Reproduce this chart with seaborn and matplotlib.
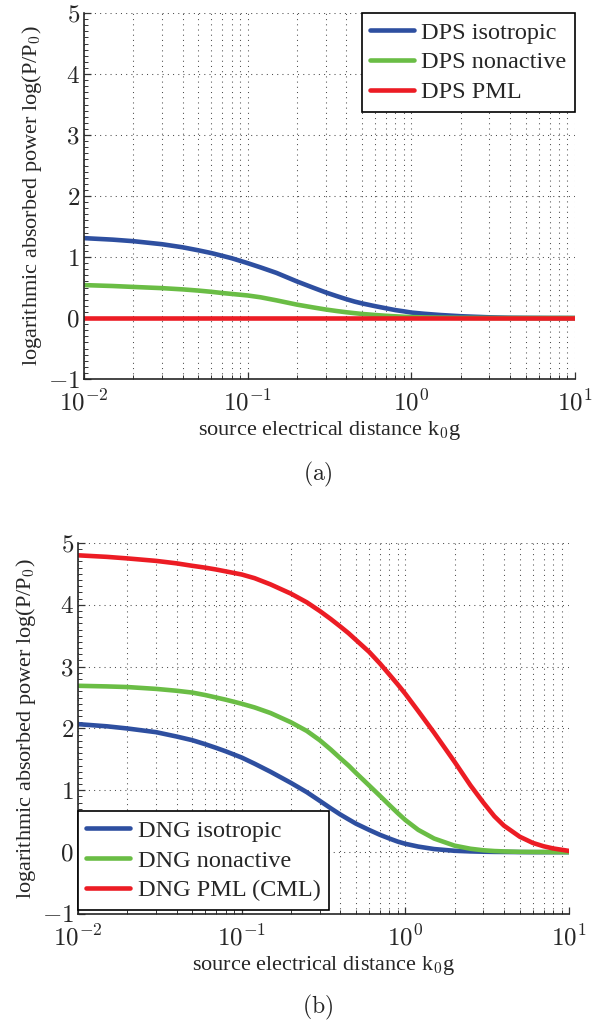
import numpy as np
import pandas as pd
import seaborn as sns
import matplotlib.pyplot as plt
from matplotlib.ticker import LogLocator, NullFormatter, MultipleLocator

sns.set_style("ticks")
plt.rcParams["font.family"] = ["Liberation Serif", "DejaVu Serif"]
plt.rcParams["mathtext.fontset"] = "cm"

# source electrical distance k0*g
kg = [0.01, 0.015, 0.02, 0.03, 0.04, 0.05, 0.06, 0.07, 0.08, 0.1, 0.12, 0.15,
      0.2, 0.25, 0.3, 0.35, 0.4, 0.45, 0.5, 0.6, 0.7, 0.8, 0.9, 1.0,
      1.2, 1.5, 2, 2.5, 3, 3.5, 4, 5, 6, 7, 8, 10]

# (a) DPS
dps_iso = [1.31, 1.285, 1.26, 1.21, 1.16, 1.11, 1.065, 1.02, 0.98, 0.90, 0.83, 0.74,
           0.60, 0.50, 0.42, 0.36, 0.31, 0.27, 0.24, 0.195, 0.16, 0.13, 0.11, 0.09,
           0.07, 0.05, 0.03, 0.02, 0.012, 0.008, 0.005, 0.003, 0.002, 0.001, 0.001, 0.0]
dps_nonactive = [0.54, 0.525, 0.51, 0.49, 0.47, 0.45, 0.43, 0.41, 0.395, 0.37, 0.34, 0.29,
                 0.22, 0.175, 0.14, 0.115, 0.095, 0.08, 0.067, 0.05, 0.037, 0.028, 0.021, 0.016,
                 0.01, 0.006, 0.003, 0.002, 0.001, 0.0, 0.0, 0.0, 0.0, 0.0, 0.0, 0.0]
dps_pml = [0.0] * 36

# (b) DNG
dng_iso = [2.07, 2.035, 2.00, 1.94, 1.87, 1.81, 1.745, 1.685, 1.63, 1.53, 1.43, 1.30,
           1.12, 0.97, 0.83, 0.71, 0.61, 0.53, 0.46, 0.36, 0.28, 0.22, 0.17, 0.135,
           0.09, 0.05, 0.022, 0.012, 0.007, 0.004, 0.003, 0.001, 0.0, 0.0, 0.0, 0.0]
dng_nonactive = [2.69, 2.68, 2.67, 2.64, 2.61, 2.58, 2.54, 2.50, 2.465, 2.40, 2.34, 2.25,
                 2.10, 1.96, 1.81, 1.66, 1.52, 1.40, 1.28, 1.08, 0.91, 0.76, 0.63, 0.52,
                 0.36, 0.22, 0.105, 0.055, 0.03, 0.018, 0.012, 0.005, 0.003, 0.002, 0.001, 0.0]
dng_pml = [4.80, 4.775, 4.75, 4.71, 4.67, 4.63, 4.60, 4.57, 4.54, 4.49, 4.43, 4.33,
           4.18, 4.04, 3.90, 3.77, 3.65, 3.54, 3.43, 3.24, 3.05, 2.87, 2.71, 2.56,
           2.28, 1.93, 1.46, 1.08, 0.80, 0.58, 0.43, 0.25, 0.15, 0.095, 0.06, 0.02]

labels_a = ["DPS isotropic", "DPS nonactive", "DPS PML"]
labels_b = ["DNG isotropic", "DNG nonactive", "DNG PML (CML)"]
colors = ["#2E4FA0", "#6ABD45", "#EC1C24"]

yticks = [-1, 0, 1, 2, 3, 4, 5]
ytick_labels = [r"$-1$", r"$0$", r"$1$", r"$2$", r"$3$", r"$4$", r"$5$"]
xticks = [0.01, 0.1, 1, 10]
xtick_labels = [r"$10^{-2}$", r"$10^{-1}$", r"$10^{0}$", r"$10^{1}$"]


def long_df(series, labels):
    frames = []
    for vals, lab in zip(series, labels):
        frames.append(pd.DataFrame({"kg": kg, "power": vals, "curve": lab}))
    return pd.concat(frames, ignore_index=True)


fig = plt.figure(figsize=(5.99, 10.25), dpi=100)
ax_a = fig.add_axes([0.1402, 0.6302, 0.8197, 0.3571])
ax_b = fig.add_axes([0.1302, 0.1083, 0.8197, 0.3620])

panels = [
    (ax_a, long_df([dps_iso, dps_nonactive, dps_pml], labels_a), labels_a),
    (ax_b, long_df([dng_iso, dng_nonactive, dng_pml], labels_b), labels_b),
]

for ax, df, labels in panels:
    sns.lineplot(data=df, x="kg", y="power", hue="curve", hue_order=labels,
                 palette=dict(zip(labels, colors)), linewidth=3.3, legend=False,
                 ax=ax)
    ax.set_xscale("log")
    ax.set_xlim(0.01, 10)
    ax.set_ylim(-1, 5)
    ax.set_xticks(xticks)
    ax.set_xticklabels(xtick_labels, fontsize=18)
    ax.set_yticks(yticks)
    ax.set_yticklabels(ytick_labels, fontsize=18)
    ax.xaxis.set_minor_locator(LogLocator(base=10, subs=np.arange(2, 10)))
    ax.xaxis.set_minor_formatter(NullFormatter())
    ax.yaxis.set_minor_locator(MultipleLocator(0.1))
    ax.set_axisbelow(True)
    ax.grid(True, which="major", axis="both", ls=(0, (1, 4)), color="0.3", lw=0.75)
    ax.grid(True, which="minor", axis="x", ls=(0, (1, 4)), color="0.3", lw=0.75)
    ax.tick_params(which="both", direction="in", top=False, right=False, color="0.2")
    ax.tick_params(which="major", length=5, width=0.9)
    ax.tick_params(which="minor", length=3, width=0.7)
    ax.tick_params(axis="x", which="major", pad=8)
    ax.tick_params(axis="y", which="major", pad=3)
    sns.despine(ax=ax)
    for s in ["left", "bottom"]:
        ax.spines[s].set_color("0.15")
        ax.spines[s].set_linewidth(1.2)
    ax.set_xlabel(r"source electrical distance k$_0$g", fontsize=16, va="baseline")
    ax.set_ylabel(r"logarithmic absorbed power log(P/P$_0$)", fontsize=16, va="baseline")

ax_a.xaxis.set_label_coords(0.5, -0.152)
ax_a.yaxis.set_label_coords(-0.0957, 0.5)
ax_b.xaxis.set_label_coords(0.5, -0.150)
ax_b.yaxis.set_label_coords(-0.0957, 0.5)

leg_kw = dict(fontsize=17.5, frameon=True, fancybox=False, framealpha=1,
              edgecolor="black", borderaxespad=0, handlelength=1.8,
              handletextpad=0.3, labelspacing=0.32, borderpad=0.35)
leg_a = ax_a.legend(ax_a.get_lines(), labels_a, loc="upper right",
                    bbox_to_anchor=(1, 1), **leg_kw)
leg_b = ax_b.legend(ax_b.get_lines(), labels_b, loc="lower left",
                    bbox_to_anchor=(0, 0.011), **leg_kw)
for leg in [leg_a, leg_b]:
    leg.get_frame().set_linewidth(1.2)

fig.text(318 / 599, 1 - 474 / 1025, r"$\mathrm{(a)}$", fontsize=17, ha="center", va="center")
fig.text(318 / 599, 1 - 1007 / 1025, r"$\mathrm{(b)}$", fontsize=17, ha="center", va="center")

fig.savefig("out.png", dpi=100)
